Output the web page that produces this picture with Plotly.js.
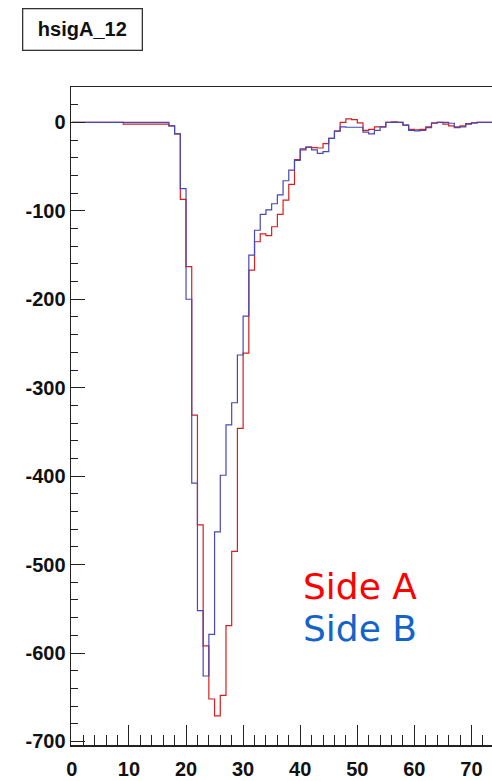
<!DOCTYPE html>
<html><head><meta charset="utf-8">
<script src="https://cdn.plot.ly/plotly-3.0.1.min.js"></script>
<style>html,body{margin:0;padding:0;background:#fff;overflow:hidden}#chart{width:492px;height:781px}</style>
</head><body><div id="chart"></div>
<script>
// Histogram contents, one value per bin (bin width 1, first bin starts at 0)
const sideA = [0,0,0,0,0,0,0,0,0,-2,-2,-2,-2,-2,-2,-2,-2,-4,-13,-87,
  -163,-331,-455,-592,-652,-671,-648,-569,-485,-346,
  -261,-167,-135,-126,-128,-118,-104,-88,-70,-42,
  -31,-28,-28.5,-29,-24,-18,-10,0,4,3,
  -0.5,-9,-8,-5,-5,0,0.5,0,-3,-8,
  -8.5,-8,-5,-0.5,0,-2,-4,-5,-4,-1.5,
  -0.5,0,0,0,0,0,0,0,0,0];
const sideB = [0,0,0,0,0,0,0,0,0,0,0,0,0,0,0,0,0,-4,-13,-75,
  -200,-408,-552,-626,-579,-463,-399,-342,-317,-263,
  -219,-150,-122,-104,-99,-92,-82,-66,-54,-43,
  -30,-28,-31,-35,-33,-18,-10,-5,-5.5,-5.5,
  -5.5,-11,-13,-9,-5,0,0,0,-3,-9,
  -9.5,-9,-6,-1,0,0,-1,-6,-5,-2,
  -0.5,0,0,0,0,0,0,0,0,0];
const seriesNames = ['Side A','Side B'];
const histTitle = 'hsigA_12';
const xTickVals = [0,10,20,30,40,50,60,70];
const yTickVals = [0,-100,-200,-300,-400,-500,-600,-700];
const yTickText = ['0','-100','-200','-300','-400','-500','-600','-700'];
const binWidth = 1, xStart = 0;

function stepTrace(vals, color){
  const x = [], y = [];
  vals.forEach((v,i)=>{ x.push(xStart + i*binWidth); y.push(v); });
  x.push(xStart + vals.length*binWidth); y.push(vals[vals.length-1]);
  return {x, y, type:'scatter', mode:'lines', line:{shape:'hv', color, width:1.2}, hoverinfo:'skip', showlegend:false};
}

const L = 71, T = 87, B = 36, W = 492, H = 781;
const plotW = W - L, plotH = H - T - B;
const px = v => (v - L)/plotW;
const py = v => (H - B - v)/plotH;

const tickFont = {family:'Liberation Sans, Arial, sans-serif', size:20, color:'#111', weight:'bold'};
const layout = {
  width:W, height:H,
  margin:{l:L, r:0, t:T, b:B, pad:0},
  paper_bgcolor:'#fff', plot_bgcolor:'#fff',
  showlegend:false,
  xaxis:{range:[-0.15,73.6], showline:true, linecolor:'#222', linewidth:1.5, mirror:true,
    ticks:'inside', ticklen:20, tickwidth:1, tickcolor:'#222',
    tickmode:'array', tickvals:xTickVals, ticktext:xTickVals.map(String),
    minor:{tick0:0, dtick:2, ticks:'inside', ticklen:10, tickwidth:1, tickcolor:'#222', showgrid:false},
    showgrid:false, zeroline:false, tickfont:tickFont, ticklabelstandoff:5},
  yaxis:{range:[-704,40], showline:true, linecolor:'#222', linewidth:1.5, mirror:false,
    ticks:'inside', ticklen:14, tickwidth:1, tickcolor:'#222',
    tickmode:'array', tickvals:yTickVals, ticktext:yTickText,
    minor:{tick0:0, dtick:20, ticks:'inside', ticklen:7, tickwidth:1, tickcolor:'#222', showgrid:false},
    showgrid:false, zeroline:false, tickfont:tickFont, ticklabelstandoff:0},
  annotations:[
    {text:histTitle, xref:'paper', yref:'paper', x:px(82.7), y:py(29.2), xanchor:'center', yanchor:'middle',
     showarrow:false, width:118, height:40, borderpad:0, bordercolor:'#333', borderwidth:1.3, bgcolor:'#fff',
     font:{family:'Liberation Sans, Arial, sans-serif', size:20, color:'#111', weight:'bold'}},
    {text:seriesNames[0], xref:'paper', yref:'paper', x:px(301), y:py(586), xanchor:'left', yanchor:'middle',
     showarrow:false, font:{family:'DejaVu Sans', size:36, color:'#ff0000'}},
    {text:seriesNames[1], xref:'paper', yref:'paper', x:px(301), y:py(628), xanchor:'left', yanchor:'middle',
     showarrow:false, font:{family:'DejaVu Sans', size:36, color:'#1464c8'}}
  ]
};
Plotly.newPlot('chart', [stepTrace(sideA,'#d42020'), stepTrace(sideB,'#4848b4')], layout, {staticPlot:true, displayModeBar:false});
</script></body></html>
